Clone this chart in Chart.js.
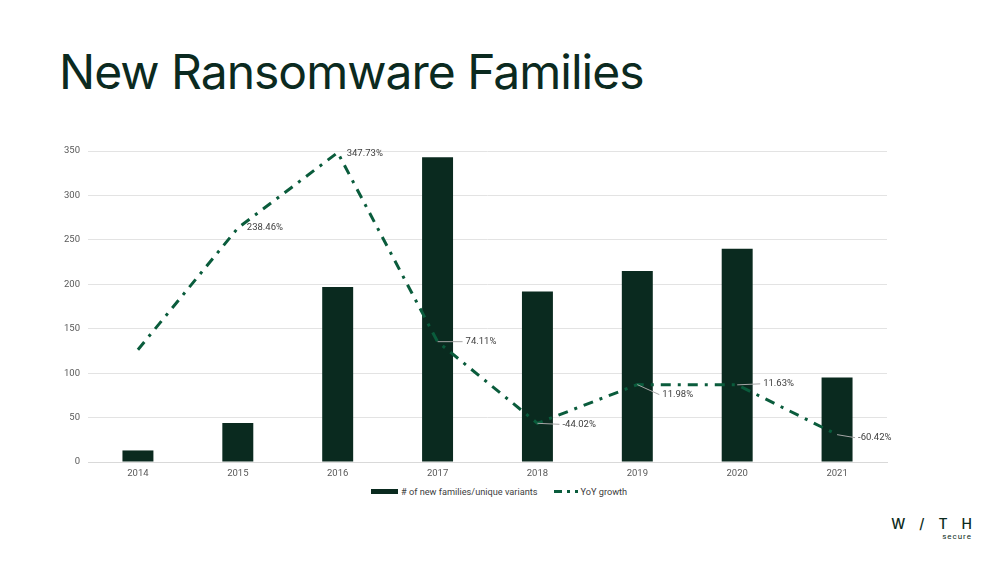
<!DOCTYPE html>
<html lang="en">
  <head>
    <meta charset="UTF-8" />
    <title>New Ransomware Families</title>
    <script src="https://cdn.jsdelivr.net/npm/chart.js"></script>
    <style>
      body {
        margin: 0;
        width: 1000px;
        height: 563px;
        background: #ffffff;
        font-family: Roboto, Inter, sans-serif;
        position: relative;
        overflow: hidden;
      }
      h1 {
        position: absolute;
        left: 59px;
        top: 42px;
        margin: 0;
        font-family: Inter, sans-serif;
        font-size: 48px;
        font-weight: 400;
        color: #0b2a20;
        letter-spacing: -1px;
      }
      .chart-box {
        position: absolute;
        left: 0;
        top: 130px;
        width: 1000px;
        height: 352px;
      }
      .legend {
        position: absolute;
        top: 486px;
        left: 371px;
        font-size: 9.2px;
        color: #404040;
        display: flex;
        align-items: center;
      }
      .legend span {
        display: inline-flex;
        align-items: center;
      }
      .sw-bar {
        display: inline-block;
        width: 27px;
        height: 5px;
        background: #0a2a1f;
        margin-right: 3px;
      }
      .sw-line {
        display: inline-block;
        width: 26px;
        height: 3px;
        margin-left: 16px;
        margin-right: 1px;
        background: linear-gradient(to right, #0a5c3c 0 8px, transparent 8px 13px, #0a5c3c 13px 16px, transparent 16px 21px, #0a5c3c 21px 24px, transparent 24px);
      }
      .logo {
        position: absolute;
        right: 28px;
        top: 516px;
        text-align: right;
        color: #0b2a20;
      }
      .logo .w {
        font-family: Inter, sans-serif;
        font-size: 14px;
        letter-spacing: 14px;
        margin-right: -14px;
        font-weight: 500;
        line-height: 16px;
      }
      .logo .s {
        font-size: 8px;
        letter-spacing: 1px;
        line-height: 10px;
      }
    </style>
  </head>
  <body>
    <h1>New Ransomware Families</h1>
    <div class="chart-box"><canvas id="chart"></canvas></div>
    <div class="legend">
      <span><i class="sw-bar"></i># of new families/unique variants</span>
      <span><i class="sw-line"></i>YoY growth</span>
    </div>
    <div class="logo">
      <div class="w">W/TH</div>
      <div class="s">secure</div>
    </div>

    <script>
      const years = ['2014', '2015', '2016', '2017', '2018', '2019', '2020', '2021']
      const newFamilies = [13, 44, 197, 343, 192, 215, 240, 95]
      const yoyGrowth = [62.5, 238.46, 347.73, 74.11, -44.02, 11.98, 11.63, -60.42]
      const yTicks = [0, 50, 100, 150, 200, 250, 300, 350]

      // где ставить подписи процентов (сдвиг от точки, линия-выноска)
      const labelOffsets = [
        null,
        { dx: 9, dy: 0, leader: false },
        { dx: 9, dy: 1, leader: false },
        { dx: 28, dy: 0, leader: true },
        { dx: 25, dy: 1, leader: true },
        { dx: 25, dy: 10, leader: true },
        { dx: 26, dy: -1, leader: true },
        { dx: 21, dy: 3, leader: true },
      ]

      const pctLabels = {
        id: 'pctLabels',
        afterDatasetsDraw(chart) {
          const meta = chart.getDatasetMeta(1)
          const ctx = chart.ctx
          ctx.save()
          ctx.font = '9.5px Roboto, sans-serif'
          ctx.fillStyle = '#404040'
          ctx.textBaseline = 'middle'
          meta.data.forEach((pt, i) => {
            const off = labelOffsets[i]
            if (!off) return
            const x = pt.x + off.dx
            const y = pt.y + off.dy
            if (off.leader) {
              ctx.strokeStyle = '#a6a6a6'
              ctx.lineWidth = 1
              ctx.beginPath()
              ctx.moveTo(pt.x, pt.y)
              ctx.lineTo(x - 3, y)
              ctx.stroke()
            }
            ctx.fillText(yoyGrowth[i].toFixed(2) + '%', x, y)
          })
          ctx.restore()
        },
      }

      new Chart(document.getElementById('chart'), {
        data: {
          labels: years,
          datasets: [
            {
              type: 'bar',
              label: '# of new families/unique variants',
              data: newFamilies,
              backgroundColor: '#0a2a1f',
              barPercentage: 0.31,
              categoryPercentage: 1,
              order: 2,
            },
            {
              type: 'line',
              label: 'YoY growth',
              data: yoyGrowth,
              yAxisID: 'y2',
              borderColor: '#0a5c3c',
              borderWidth: 3,
              borderDash: [10, 7, 3, 7],
              pointRadius: 0,
              fill: false,
              tension: 0,
              order: 1,
            },
          ],
        },
        options: {
          responsive: true,
          maintainAspectRatio: false,
          animation: false,
          layout: { padding: { left: 40, right: 113, top: 21, bottom: 0 } },
          plugins: {
            legend: { display: false },
            tooltip: { enabled: false },
          },
          scales: {
            x: {
              grid: { display: false, drawTicks: false },
              border: { color: '#d9d9d9' },
              ticks: { color: '#595959', font: { size: 9.5, family: 'Roboto' }, padding: 6 },
              afterFit: (s) => { s.height = 20 },
            },
            y: {
              min: 0,
              max: 350,
              afterBuildTicks: (s) => { s.ticks = yTicks.map((v) => ({ value: v })) },
              afterFit: (s) => { s.width = 48 },
              grid: { color: '#e3e3e3', drawTicks: false },
              border: { display: false },
              ticks: { color: '#595959', font: { size: 9.5, family: 'Roboto' }, padding: 8 },
            },
            y2: {
              display: false,
              min: -100,
              max: 350,
            },
          },
        },
        plugins: [pctLabels],
      })
    </script>
  </body>
</html>
